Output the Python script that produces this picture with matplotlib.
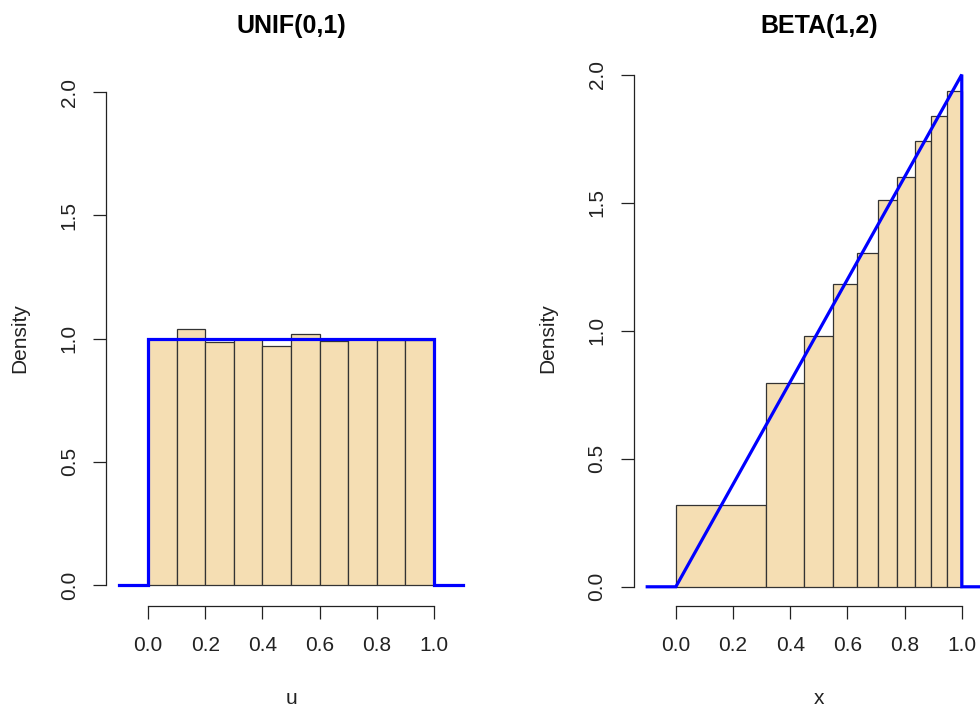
import numpy as np
import matplotlib.pyplot as plt

plt.rcParams['font.family'] = ['Liberation Sans', 'DejaVu Sans']

# ---- UNIF(0,1) histogram (bin width 0.1) ----
unif_edges = [0.0, 0.1, 0.2, 0.3, 0.4, 0.5, 0.6, 0.7, 0.8, 0.9, 1.0]
unif_heights = [1.0, 1.04, 0.985, 1.0, 0.972, 1.017, 0.99, 1.0, 0.995, 0.995]
unif_curve_x = [-0.1, 0.0, 0.0, 1.0, 1.0, 1.1]
unif_curve_y = [0.0, 0.0, 1.0, 1.0, 0.0, 0.0]

# ---- BETA(1,2) histogram (unequal bins) ----
beta_edges = [0.0, 0.316, 0.447, 0.548, 0.632, 0.707, 0.775, 0.837, 0.894, 0.949, 1.0]
beta_heights = [0.319, 0.796, 0.98, 1.183, 1.303, 1.51, 1.599, 1.739, 1.839, 1.937]
beta_curve_x = [-0.1, 0.0, 1.0, 1.0, 1.1]
beta_curve_y = [0.0, 0.0, 2.0, 0.0, 0.0]

x_ticks = [0.0, 0.2, 0.4, 0.6, 0.8, 1.0]
y_ticks = [0.0, 0.5, 1.0, 1.5, 2.0]

W, H = 980, 708
fig = plt.figure(figsize=(W / 100, H / 100), dpi=100)

panels = [
    dict(left=105.7, ylim=(-0.085, 2.082), edges=unif_edges, heights=unif_heights,
         cx=unif_curve_x, cy=unif_curve_y, title="UNIF(0,1)", xlabel="u"),
    dict(left=633.5, ylim=(-0.075, 2.01), edges=beta_edges, heights=beta_heights,
         cx=beta_curve_x, cy=beta_curve_y, title="BETA(1,2)", xlabel="x"),
]

top_px, bot_px, width_px = 72, 606, 370.6
for p in panels:
    ax = fig.add_axes([p['left'] / W, (H - bot_px) / H, width_px / W, (bot_px - top_px) / H])
    edges = np.array(p['edges'])
    ax.bar(edges[:-1], p['heights'], width=np.diff(edges), align='edge',
           color='#F5DEB3', edgecolor='#333333', linewidth=0.9, zorder=2)
    ax.plot(p['cx'], p['cy'], color='#0000FF', linewidth=2.3, zorder=3,
            solid_joinstyle='miter')
    ax.set_xlim(-0.148, 1.148)
    ax.set_ylim(*p['ylim'])

    for s in ['top', 'right']:
        ax.spines[s].set_visible(False)
    ax.spines['left'].set_bounds(0, 2)
    ax.spines['bottom'].set_bounds(0, 1)
    for s in ['left', 'bottom']:
        ax.spines[s].set_linewidth(0.9)
        ax.spines[s].set_color('#222222')

    ax.set_xticks(x_ticks)
    ax.set_xticklabels(["%.1f" % v for v in x_ticks])
    ax.set_yticks(y_ticks)
    ax.set_yticklabels(["%.1f" % v for v in y_ticks], rotation=90, va='center')
    ax.tick_params(direction='out', length=9.4, width=0.9, color='#222222',
                   labelsize=15, labelcolor='#222222')
    ax.tick_params(axis='x', pad=12)
    ax.tick_params(axis='y', pad=10)

    ax.text(0.5, (bot_px - 32.5) / (bot_px - top_px), p['title'], transform=ax.transAxes,
            ha='center', va='baseline', fontsize=18, fontweight='bold')
    ax.text(0.5, (bot_px - 704) / (bot_px - top_px), p['xlabel'], transform=ax.transAxes,
            ha='center', va='baseline', fontsize=15, color='#222222')
    ax.text(-85.5 / width_px, (bot_px - 338) / (bot_px - top_px), "Density",
            transform=ax.transAxes, ha='center', va='center', rotation=90,
            fontsize=15, color='#222222')

fig.savefig("out.png", dpi=100)
